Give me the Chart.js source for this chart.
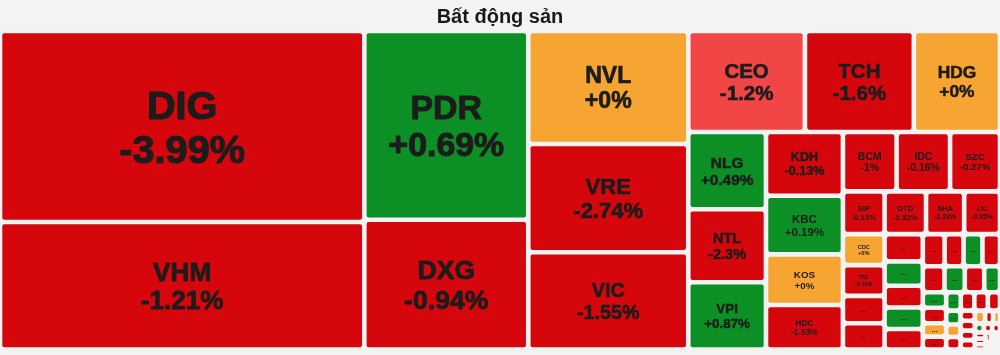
<!DOCTYPE html>
<html>
<head>
<meta charset="utf-8">
<script src="https://cdn.jsdelivr.net/npm/chart.js@4.4.1/dist/chart.umd.min.js"></script>
<style>
  html, body { margin: 0; padding: 0; background: #f3f3f4; }
  #wrap { width: 1000px; height: 355px; }
</style>
</head>
<body>
<div id="wrap"><canvas id="c" width="1000" height="355"></canvas></div>
<script>
// ---------------- data ----------------
const chartTitle = 'Bất động sản';
const tickers = ['DIG','VHM','PDR','DXG','NVL','VRE','VIC','CEO','TCH','HDG','NLG','NTL','VPI',
                 'KDH','KBC','KOS','HDC','BCM','IDC','SZC','SIP','DTD','NHA','LIC','CDC','TIG'];
const changes = [-3.99,-1.21,0.69,-0.94,0,-2.74,-1.55,-1.2,-1.6,0,0.49,-2.3,0.87,
                 -0.13,0.19,0,-1.53,-1,-0.16,-0.27,-0.13,-1.32,-2.23,-0.35,0,-0.74];
// cell weights (size of each tile), labelled tickers first, then the small unreadable ones
const weights = [69500,46400,30900,21250,18060,17290,15550,11770,10990,8690,6000,5660,5220,
                 4900,4510,3890,3420,3180,3170,2960,1780,1770,1630,1530,1290,1280,
                 1140,1090,1040,930,830,825,780,700,608,606,563,562,526,505,409,364,362,310,301,
                 268,250,248,224,198,180,178,145,143,136,135,132,102,90,80,75,70,65,60,55,50,45,
                 40,35,30,25,20];
// direction of the small tiles whose ticker cannot be read ('-' down, '+' up, '0' unchanged)
const unlabeledMoves = ['-','-','-','+','-','+','-','-','-','+','-','-','+','-','+','+','-','0',
                        '-','+','-','-','-','+','0','-','-','-','-','-','0','-','0','+','-','-',
                        '-','-','-','-','-','-','-','-','-','-'];

// ---------------- style ----------------
const FONT = '"Liberation Sans", Arial, Helvetica, sans-serif';
const RED = '#d5070d', GREEN = '#0c8f24', ORANGE = '#f7a532', HOVER_RED = '#f24646';
const HOVERED = 'CEO';
const TEXT = '#1c1c1c';
const GAP = 2.3;
const RATIO = 1.414;

function squarify(values, x0, y0, x1, y1, ratio) {
  const out = new Array(values.length);
  const n = values.length;
  let value = values.reduce((a, b) => a + b, 0);
  let i0 = 0, i1 = 0;
  while (i0 < n) {
    const dx = x1 - x0, dy = y1 - y0;
    let sumValue = values[i1++];
    let minV = sumValue, maxV = sumValue;
    const alpha = Math.max(dy / dx, dx / dy) / (value * ratio);
    let beta = sumValue * sumValue * alpha;
    let minRatio = Math.max(maxV / beta, beta / minV);
    for (; i1 < n; ++i1) {
      const v = values[i1];
      sumValue += v;
      const mn = Math.min(minV, v), mx = Math.max(maxV, v);
      beta = sumValue * sumValue * alpha;
      const newRatio = Math.max(mx / beta, beta / mn);
      if (newRatio > minRatio) { sumValue -= v; break; }
      minV = mn; maxV = mx; minRatio = newRatio;
    }
    if (dx < dy) {
      const h = i1 >= n ? dy : dy * sumValue / value;
      let x = x0;
      for (let k = i0; k < i1; k++) {
        const w = dx * values[k] / sumValue;
        out[k] = { x0: x, y0: y0, x1: x + w, y1: y0 + h };
        x += w;
      }
      y0 += h;
    } else {
      const w = i1 >= n ? dx : dx * sumValue / value;
      let y = y0;
      for (let k = i0; k < i1; k++) {
        const h = dy * values[k] / sumValue;
        out[k] = { x0: x0, y0: y, x1: x0 + w, y1: y + h };
        y += h;
      }
      x0 += w;
    }
    value -= sumValue;
    i0 = i1;
  }
  return out;
}

function fmt(v) { return (v >= 0 ? '+' : '') + v + '%'; }

const bgPlugin = {
  id: 'bg',
  beforeDraw(chart) {
    const c = chart.ctx;
    c.save();
    c.fillStyle = '#f3f3f4';
    c.fillRect(0, 0, chart.width, chart.height);
    c.restore();
  }
};

const treemapPlugin = {
  id: 'treemapCells',
  afterDatasetsDraw(chart) {
    const xs = chart.scales.x, ys = chart.scales.y;
    const rects = squarify(weights, xs.min, ys.min, xs.max, ys.max, RATIO);
    const ctx = chart.ctx;
    ctx.save();
    rects.forEach((r, i) => {
      const px0 = xs.getPixelForValue(r.x0), px1 = xs.getPixelForValue(r.x1);
      const py0 = ys.getPixelForValue(r.y0), py1 = ys.getPixelForValue(r.y1);
      const L = Math.min(px0, px1) + GAP, R = Math.max(px0, px1) - GAP;
      const T = Math.min(py0, py1) + GAP, B = Math.max(py0, py1) - GAP;
      const w = R - L, h = B - T;
      if (w <= 0.5 || h <= 0.5) return;
      const labelled = i < tickers.length;
      const um = unlabeledMoves[i - tickers.length];
      const mv = labelled ? Math.sign(changes[i]) : (um === '+' ? 1 : um === '0' ? 0 : -1);
      let col = mv > 0 ? GREEN : mv < 0 ? RED : ORANGE;
      if (labelled && tickers[i] === HOVERED) col = HOVER_RED;
      ctx.fillStyle = col;
      ctx.beginPath();
      const rad = Math.min(2, w / 2, h / 2);
      if (ctx.roundRect) ctx.roundRect(L, T, w, h, rad); else ctx.rect(L, T, w, h);
      ctx.fill();

      const cx = (L + R) / 2, cy = (T + B) / 2;
      let fs = Math.min(w, h) / 4.7;
      ctx.fillStyle = TEXT;
      ctx.strokeStyle = TEXT;
      ctx.lineJoin = 'round';
      ctx.textAlign = 'center';
      if (labelled && fs >= 5) {
        const l1 = tickers[i], l2 = fmt(changes[i]);
        ctx.font = 'bold ' + fs.toFixed(2) + 'px ' + FONT;
        const mw = Math.max(ctx.measureText(l1).width, ctx.measureText(l2).width);
        if (mw > w * 0.9) { fs = fs * w * 0.9 / mw; ctx.font = 'bold ' + fs.toFixed(2) + 'px ' + FONT; }
        ctx.textBaseline = 'alphabetic';
        ctx.lineWidth = fs * 0.03;
        ctx.fillText(l1, cx, cy - 0.192 * fs);
        ctx.fillText(l2, cx, cy + 0.908 * fs);
        if (fs >= 12) {
          ctx.strokeText(l1, cx, cy - 0.192 * fs);
          ctx.strokeText(l2, cx, cy + 0.908 * fs);
        }
      } else if (Math.min(w, h) >= 8) {
        ctx.font = 'bold 7px ' + FONT;
        ctx.textBaseline = 'middle';
        ctx.fillText('...', cx, cy);
      }
    });
    ctx.restore();
  }
};

new Chart(document.getElementById('c'), {
  type: 'scatter',
  data: { datasets: [{ data: [] }] },
  options: {
    responsive: false,
    animation: false,
    devicePixelRatio: 1,
    layout: { padding: { left: 0, right: 0, top: 0, bottom: 5.5 } },
    scales: {
      x: { type: 'linear', min: 0, max: 1000, display: false },
      y: { type: 'linear', min: 0, max: 318.5, reverse: true, display: false }
    },
    plugins: {
      legend: { display: false },
      tooltip: { enabled: false },
      title: {
        display: true,
        text: chartTitle,
        color: '#1a1a1a',
        font: { family: FONT, size: 20, weight: 'bold' },
        padding: { top: 5, bottom: 2 }
      }
    }
  },
  plugins: [bgPlugin, treemapPlugin]
});
</script>
</body>
</html>
